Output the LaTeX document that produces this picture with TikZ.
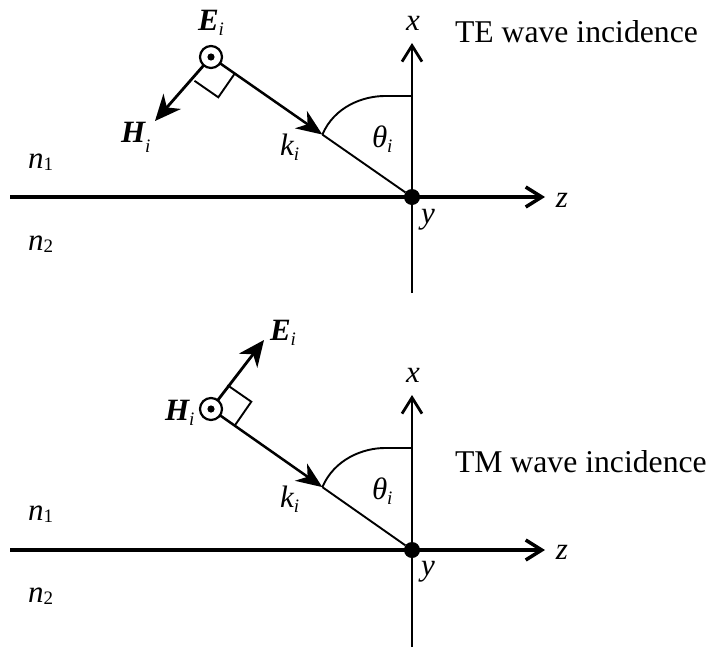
\documentclass[tikz,border=0pt]{standalone}
\usepackage{fontspec}
\setmainfont{Liberation Serif}
\usetikzlibrary{arrows.meta,calc}
\newcommand\lbl[3][5pt]{#2\raisebox{-#1}{\fontsize{19}{19}\selectfont #3}}
\begin{document}
\begin{tikzpicture}[x=1pt,y=-1pt,
  every node/.style={inner sep=0pt,outer sep=0pt},
  lab/.style={font=\fontsize{31}{36}\selectfont\itshape},
  bvec/.style={font=\fontsize{31}{36}\selectfont\bfseries\itshape},
  title/.style={font=\fontsize{31.7}{38}\selectfont},
  zaxis/.style={line width=4.5pt,-{Straight Barb[length=16pt,width=20pt,line width=3.5pt]}},
  xaxis/.style={line width=2.8pt,-{Straight Barb[length=16pt,width=20pt,line width=2.8pt]}},
  vaxis/.style={line width=2.8pt},
  kvec/.style={line width=2.5pt,-{Stealth[length=26pt,width=21pt,inset=8pt]}},
  fvec/.style={line width=2.8pt,-{Stealth[length=26pt,width=23pt,inset=8pt]}},
  thinl/.style={line width=1.9pt},
  boxs/.style={line width=1.9pt},
  circ/.style={circle,draw,line width=2.2pt,fill=white,minimum size=22pt},
  orig/.style={circle,fill=black,minimum size=16pt}]
\useasboundingbox (0,0) rectangle (712,648);
\fill[white] (0,0) rectangle (712,648);

% ---------- top: TE ----------
\coordinate (xt1) at (412,43);
\coordinate (xb1) at (412,293);
\coordinate (zl1) at (10,197);
\coordinate (zt1) at (545,197);
\coordinate (ax1) at (412,96);
\coordinate (ht1) at (155,121);
\draw[vaxis] (xb1) -- (412,120);
\draw[xaxis] (412,120) -- (xt1);
\draw[zaxis] (zl1) -- (zt1);
\node[orig] (o1) at (412,197) {};
\node[circ] (c1) at (211,57) {};
\fill (c1.center) circle[radius=3.6];
\coordinate (kt1) at ($(c1.center)!0.554!(o1.center)$);
\draw[kvec] (c1) -- (kt1);
\draw[thinl] (kt1) -- (o1);
\draw[fvec] (c1) -- (ht1);
\draw[boxs] ($(c1.center)+(23.8,16.5)$) -- ++(-16.5,23.8) -- ++(-23.8,-16.5);
\draw[thinl] (kt1) .. controls +(12,-28) and +(-22,0) .. (385,96) -- (ax1);

\node[bvec,anchor=base west] (E1) at (198,30) {\lbl{E}{\itshape\mdseries i}};
\node[bvec,anchor=base west] (H1) at (121,142) {\lbl[10pt]{H}{\itshape\mdseries i}};
\node[lab,anchor=base west] (k1) at (280,155) {\lbl{k}{i}};
\node[lab,anchor=base west] (t1) at (372,147) {\lbl{θ}{i}};
\node[lab,anchor=base] (xl1) at (413,30) {x};
\node[lab,anchor=base] (zl1t) at (562,207) {z};
\node[lab,anchor=base] (yl1) at (428,223) {y};
\node[lab,anchor=base west] (n11) at (28,168) {\lbl[2pt]{n}{\upshape 1}};
\node[lab,anchor=base west] (n21) at (28,250) {\lbl[2pt]{n}{\upshape 2}};
\node[title,anchor=base west] (te) at (455,42) {TE wave incidence};

% ---------- bottom: TM ----------
\begin{scope}[shift={(0,352)}]
\coordinate (xt2) at (412,43);
\coordinate (xb2) at (412,295);
\coordinate (zl2) at (10,198);
\coordinate (zt2) at (545,198);
\coordinate (ax2) at (412,96);
\coordinate (et2) at (264,-12);
\draw[vaxis] (xb2) -- (412,120);
\draw[xaxis] (412,120) -- (xt2);
\draw[zaxis] (zl2) -- (zt2);
\node[orig] (o2) at (412,198) {};
\node[circ] (c2) at (211,57) {};
\fill (c2.center) circle[radius=3.6];
\coordinate (kt2) at ($(c2.center)!0.554!(o2.center)$);
\draw[kvec] (c2) -- (kt2);
\draw[thinl] (kt2) -- (o2);
\draw[fvec] (c2) -- (et2);
\draw[boxs] ($(c2.center)+(23.8,16.5)$) -- ++(16.5,-23.8) -- ++(-23.8,-16.5);
\draw[thinl] (kt2) .. controls +(12,-28) and +(-22,0) .. (385,96) -- (ax2);

\node[bvec,anchor=base west] (E2) at (270,-12) {\lbl{E}{\itshape\mdseries i}};
\node[bvec,anchor=base west] (H2) at (165,68) {\lbl{H}{\itshape\mdseries i}};
\node[lab,anchor=base west] (k2) at (280,155) {\lbl{k}{i}};
\node[lab,anchor=base west] (t2) at (372,147) {\lbl{θ}{i}};
\node[lab,anchor=base] (xl2) at (413,30) {x};
\node[lab,anchor=base] (zl2t) at (562,207) {z};
\node[lab,anchor=base] (yl2) at (428,223) {y};
\node[lab,anchor=base west] (n12) at (28,168) {\lbl[2pt]{n}{\upshape 1}};
\node[lab,anchor=base west] (n22) at (28,250) {\lbl[2pt]{n}{\upshape 2}};
\node[title,anchor=base west] (tm) at (455,120) {TM wave incidence};
\end{scope}
\end{tikzpicture}
\end{document}
